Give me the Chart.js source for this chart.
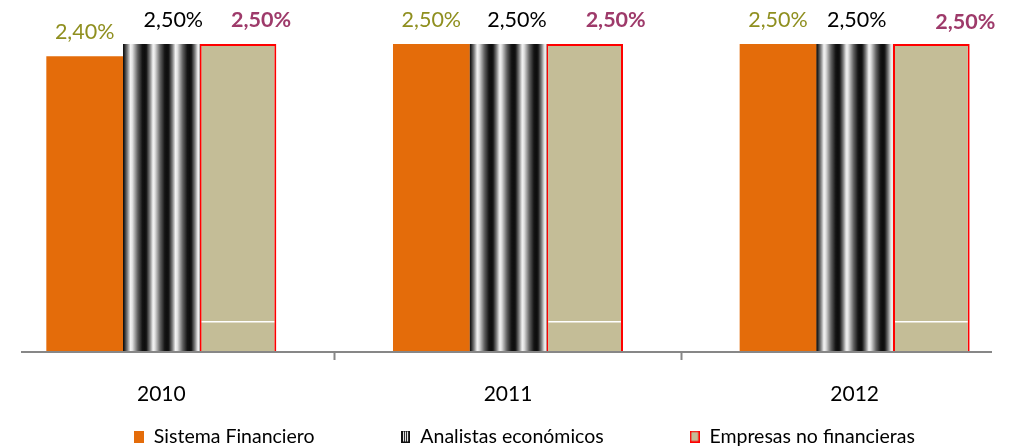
<!DOCTYPE html>
<html><head><meta charset="utf-8">
<script src="https://cdn.jsdelivr.net/npm/chart.js@4.4.1/dist/chart.umd.min.js"></script>
<style>
html,body{margin:0;padding:0;background:#fff;overflow:hidden;width:1013px;height:447px;}
#wrap{position:absolute;left:-12px;top:0;width:1040px;height:447px;}
</style></head><body>
<div id="wrap"><canvas id="c"></canvas></div>
<script>
// ---- data ----
const categories = ['2010', '2011', '2012'];
const seriesNames = ['Sistema Financiero', 'Analistas económicos', 'Empresas no financieras'];
const sistemaFinanciero = [2.40, 2.50, 2.50];
const analistasEconomicos = [2.50, 2.50, 2.50];
const empresasNoFinancieras = [2.50, 2.50, 2.50];
const valueAxisMin = 0;
const valueAxisMax = 2.5;

// ---- styles ----
const FONT = 'Lato, "Open Sans", sans-serif';
const colors = {orange: '#E46C0A', tan: '#C4BD97', red: '#FF0000', olive: '#8F8F1F', plum: '#9E3A6A', axis: '#878787'};
const labelStyle = [
  {color: colors.olive, weight: 'normal', dx: [0, 0, 0], dy: [0, 0, 0]},
  {color: '#000000', weight: 'normal', dx: [12, 9, 2], dy: [0, 0, 0]},
  {color: colors.plum, weight: 'bold', dx: [23, 31, 34], dy: [0, 0, 2]}
];
const empresasRuleValue = 0.245;      // thin white rule inside the tan bars
const axisLineStart = 33, axisLineEnd = 1004; // wrapper px
const legendShift = 16.5, legendTextCenter = 436.5;

function makeIcon(w, h, draw) {
  const c = document.createElement('canvas');
  c.width = w; c.height = h;
  draw(c.getContext('2d'), w, h);
  return c;
}
const icons = [
  makeIcon(10, 12, (g, w, h) => { g.fillStyle = colors.orange; g.fillRect(0, 0, w, h); }),
  makeIcon(9, 12, (g, w, h) => {
    g.fillStyle = '#111'; g.fillRect(0, 0, w, h);
    g.fillStyle = '#fff'; [2, 4, 6].forEach(x => g.fillRect(x, 1, 1, h - 2));
  }),
  makeIcon(10, 12, (g, w, h) => {
    g.fillStyle = colors.red; g.fillRect(0, 0, w, h);
    g.fillStyle = colors.tan; g.fillRect(1.5, 1.5, w - 3, h - 3);
  })
];

// cylinder-stripe pattern (two periods)
const stripeCanvas = makeIcon(45, 4, (g, w, h) => {
  for (let k = 0; k < 2; k++) {
    const x0 = k * 22.5;
    const gr = g.createLinearGradient(x0, 0, x0 + 22.5, 0);
    gr.addColorStop(0, '#0d0d0d');
    gr.addColorStop(0.08, '#141414');
    gr.addColorStop(0.24, '#808080');
    gr.addColorStop(0.38, '#f4f4f4');
    gr.addColorStop(0.46, '#e2e2e2');
    gr.addColorStop(0.7, '#606060');
    gr.addColorStop(0.9, '#141414');
    gr.addColorStop(1, '#0d0d0d');
    g.fillStyle = gr;
    g.fillRect(x0, 0, 22.5, h);
  }
});

const fmt = v => v.toFixed(2).replace('.', ',') + '%';

const decorPlugin = {
  id: 'decor',
  afterLayout(chart) {
    const lg = chart.legend;
    if (!lg) return;
    lg.left += legendShift; lg.right += legendShift;
    const lo = lg.options.labels;
    const itemH = Math.max(lo.font.size, lo.boxHeight);
    const top = legendTextCenter - lo.padding - itemH / 2;
    lg.top = top;
    lg.bottom = top + lo.padding + itemH + 10;
  },
  afterDatasetDraw(chart, args) {
    const ctx = chart.ctx;
    if (args.index === 1) {
      const pat = ctx.createPattern(stripeCanvas, 'repeat');
      args.meta.data.forEach(el => {
        const p = el.getProps(['x', 'y', 'width', 'base'], true);
        const left = p.x - p.width / 2;
        pat.setTransform(new DOMMatrix([1, 0, 0, 1, left - 1, 0]));
        ctx.save();
        ctx.fillStyle = pat;
        ctx.fillRect(left, p.y, p.width, p.base - p.y);
        ctx.restore();
      });
    }
    if (args.index === 2) {
      const yr = chart.scales.y.getPixelForValue(empresasRuleValue);
      args.meta.data.forEach(el => {
        const p = el.getProps(['x', 'width'], true);
        ctx.save();
        ctx.strokeStyle = '#ffffff';
        ctx.lineWidth = 1.5;
        ctx.beginPath();
        ctx.moveTo(p.x - p.width / 2 + 2, yr);
        ctx.lineTo(p.x + p.width / 2 - 2, yr);
        ctx.stroke();
        ctx.restore();
      });
    }
  },
  afterDatasetsDraw(chart) {
    const ctx = chart.ctx;
    const yb = chart.scales.y.getPixelForValue(valueAxisMin);
    ctx.save();
    ctx.strokeStyle = colors.axis;
    ctx.lineWidth = 2;
    ctx.beginPath();
    ctx.moveTo(axisLineStart, yb);
    ctx.lineTo(axisLineEnd, yb);
    ctx.stroke();
    ctx.restore();

    chart.data.datasets.forEach((ds, di) => {
      const meta = chart.getDatasetMeta(di);
      const st = labelStyle[di];
      meta.data.forEach((el, i) => {
        const p = el.getProps(['x', 'y'], true);
        ctx.save();
        ctx.font = st.weight + ' 21.5px ' + FONT;
        ctx.fillStyle = st.color;
        ctx.textAlign = 'center';
        ctx.textBaseline = 'alphabetic';
        ctx.fillText(fmt(ds.data[i]), p.x + st.dx[i], p.y - 17.5 + st.dy[i]);
        ctx.restore();
      });
    });
  }
};

new Chart(document.getElementById('c'), {
  type: 'bar',
  data: {
    labels: categories,
    datasets: [
      {label: seriesNames[0], data: sistemaFinanciero, backgroundColor: colors.orange, borderWidth: 0},
      {label: seriesNames[1], data: analistasEconomicos, backgroundColor: '#111111', borderWidth: 0},
      {label: seriesNames[2], data: empresasNoFinancieras, backgroundColor: colors.tan, borderColor: colors.red, borderWidth: 2}
    ]
  },
  options: {
    responsive: true,
    maintainAspectRatio: false,
    animation: false,
    devicePixelRatio: 1,
    categoryPercentage: 0.6635,
    barPercentage: 1,
    layout: {padding: {top: 44, left: 0, right: 0, bottom: 0}},
    scales: {
      x: {
        grid: {display: true, drawOnChartArea: false, drawTicks: true, tickLength: 8, tickWidth: 2, tickColor: colors.axis, offset: true},
        border: {display: false},
        ticks: {font: {family: FONT, size: 21}, color: '#000000', padding: 22},
        afterFit(scale) { scale.height = 55; }
      },
      y: {display: false, min: valueAxisMin, max: valueAxisMax}
    },
    plugins: {
      tooltip: {enabled: false},
      legend: {
        position: 'bottom',
        maxHeight: 40,
        labels: {
          font: {family: FONT, size: 19.5},
          color: '#000000',
          boxWidth: 10,
          boxHeight: 12,
          padding: 86,
          usePointStyle: true,
          generateLabels(chart) {
            const items = Chart.defaults.plugins.legend.labels.generateLabels(chart);
            items.forEach((it, i) => { it.pointStyle = icons[i]; });
            return items;
          }
        }
      }
    }
  },
  plugins: [decorPlugin]
});
</script>
</body></html>
